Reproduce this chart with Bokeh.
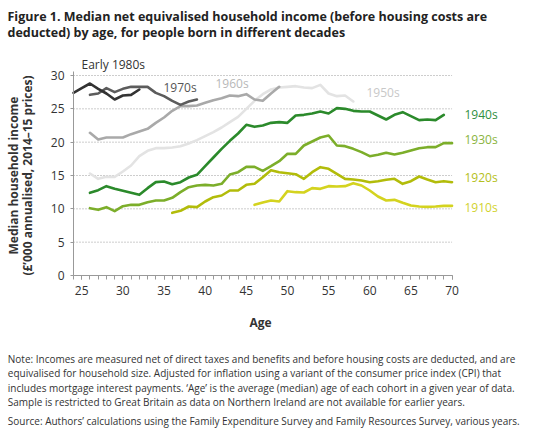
import math
from bokeh.plotting import figure
from bokeh.models import Range1d, Label, FixedTicker, ColumnDataSource
from bokeh.embed import file_html
from bokeh.resources import INLINE

# ---------------- data ----------------
ages_1980s = list(range(24, 33))
inc_1980s = [27.4, 28.1, 28.8, 28.0, 27.3, 26.4, 27.0, 27.1, 27.9]

ages_1970s = list(range(26, 40))
inc_1970s = [27.1, 27.3, 28.1, 27.5, 28.0, 28.3, 28.3, 28.3, 27.4, 26.9,
             26.2, 25.6, 26.1, 26.4]

ages_1960s = list(range(26, 50))
inc_1960s = [21.4, 20.4, 20.7, 20.7, 20.7, 21.2, 21.6, 22.0, 22.9, 23.7,
             24.7, 25.4, 25.4, 25.5, 25.9, 26.3, 26.6, 27.0, 26.9, 27.2,
             26.4, 26.2, 27.3, 28.3]

ages_1950s = list(range(26, 59))
inc_1950s = [15.3, 14.5, 14.8, 14.8, 15.6, 16.5, 17.9, 18.7, 19.1, 19.1,
             19.2, 19.4, 19.8, 20.3, 20.9, 21.5, 22.2, 23.0, 23.8, 25.0,
             26.2, 27.2, 27.9, 28.2, 28.3, 28.4, 28.2, 28.1, 28.6, 27.3,
             26.9, 27.0, 26.1]

ages_1940s = list(range(26, 70))
inc_1940s = [12.4, 12.8, 13.4, 13.0, 12.7, 12.4, 12.1, 13.1, 14.0, 14.1,
             13.7, 14.0, 14.7, 15.1, 16.4, 17.7, 19.0, 20.2, 21.3, 22.6,
             22.3, 22.5, 22.9, 23.0, 22.9, 24.0, 24.1, 24.3, 24.6, 24.3,
             25.1, 25.0, 24.7, 24.6, 24.6, 24.0, 23.4, 24.1, 24.5, 23.9,
             23.3, 23.4, 23.3, 24.1]

ages_1930s = list(range(26, 71))
inc_1930s = [10.1, 9.85, 10.25, 9.65, 10.4, 10.6, 10.6, 11.0, 11.25, 11.25,
             11.65, 12.5, 13.25, 13.5, 13.6, 13.5, 13.75, 15.15, 15.5, 16.3,
             16.3, 15.7, 16.4, 17.15, 18.25, 18.25, 19.5, 20.1, 20.7, 21.0,
             19.5, 19.4, 19.0, 18.5, 17.9, 18.1, 18.4, 18.15, 18.4, 18.75,
             19.1, 19.25, 19.25, 19.85, 19.85]

ages_1920s = list(range(36, 71))
inc_1920s = [9.4, 9.7, 10.35, 10.25, 11.1, 11.75, 12.0, 12.75, 12.75, 13.6,
             13.75, 14.75, 15.8, 15.5, 15.35, 15.2, 14.5, 15.5, 16.25, 16.0,
             15.25, 14.5, 14.4, 14.25, 14.0, 14.15, 14.35, 14.5, 13.75, 14.15,
             14.85, 14.4, 14.0, 14.15, 14.0]

ages_1910s = list(range(46, 71))
inc_1910s = [10.6, 10.95, 11.25, 11.1, 12.65, 12.5, 12.45, 13.1, 13.0, 13.4,
             13.35, 13.4, 13.85, 13.5, 12.75, 11.85, 11.25, 11.35, 10.9, 10.5,
             10.35, 10.3, 10.35, 10.45, 10.45]

cohort_names = ["1950s", "1960s", "1970s", "Early 1980s",
                "1910s", "1920s", "1930s", "1940s"]

x_major_ticks = [25, 30, 35, 40, 45, 50, 55, 60, 65, 70]
x_minor_ticks = list(range(24, 71))
y_ticks = [0, 5, 10, 15, 20, 25, 30]

title_lines = ["Figure 1. Median net equivalised household income (before housing costs are",
               "deducted) by age, for people born in different decades"]
ylabel_lines = ["Median household income", "(\u00a3\u2019000 annualised, 2014\u201315 prices)"]
xlabel = "Age"
note_lines = [
    "Note: Incomes are measured net of direct taxes and benefits and before housing costs are deducted, and are",
    "equivalised for household size. Adjusted for inflation using a variant of the consumer price index (CPI) that",
    "includes mortgage interest payments. \u2018Age\u2019 is the average (median) age of each cohort in a given year of data.",
    "Sample is restricted to Great Britain as data on Northern Ireland are not available for earlier years.",
]
source_line = "Source: Authors\u2019 calculations using the Family Expenditure Survey and Family Resources Survey, various years."

# ---------------- layout ----------------
# The frame covers the whole canvas; axes are drawn at fixed locations so that
# every text (titles, notes, labels) can sit inside the frame.
W, H = 535, 433
AXIS_PX, AXIS_PY = 73, 275          # pixel position of the axes' corner
PX_PER_YEAR = 395 / 48
PX_PER_UNIT = 204 / 30.6
X0 = 24 - AXIS_PX / PX_PER_YEAR
X1 = X0 + W / PX_PER_YEAR
Y1 = AXIS_PY / PX_PER_UNIT
Y0 = Y1 - H / PX_PER_UNIT
FONT = "Open Sans"
TXT = "#333333"


def dx(page_x):
    return X0 + page_x / PX_PER_YEAR


def dy(page_y):
    return Y1 - page_y / PX_PER_UNIT


def lab(text, x, y, size="12px", color=TXT, style="normal", align="left",
        baseline="middle", angle=0.0):
    return Label(x=dx(x), y=dy(y), text=text, text_font=FONT,
                 text_font_size=size, text_color=color,
                 text_font_style=style, text_align=align,
                 text_baseline=baseline, angle=angle)


p = figure(width=W, height=H, output_backend="svg", toolbar_location=None, tools="",
           x_range=Range1d(X0, X1), y_range=Range1d(Y0, Y1),
           min_border_left=0, min_border_right=0,
           min_border_top=0, min_border_bottom=0)
p.outline_line_color = None
p.xgrid.visible = False
p.ygrid.visible = False

# axes (fixed in the frame)
p.xaxis.fixed_location = 0
p.yaxis.fixed_location = x_minor_ticks[0]
p.xaxis.ticker = FixedTicker(ticks=x_major_ticks, minor_ticks=x_minor_ticks)
p.xaxis.bounds = (x_minor_ticks[0], x_minor_ticks[-1])
p.yaxis.ticker = FixedTicker(ticks=y_ticks)
p.yaxis.bounds = (0, 30.6)
for ax in (p.xaxis, p.yaxis):
    ax.axis_line_color = "#999999"
    ax.major_tick_line_color = "#999999"
    ax.minor_tick_line_color = "#999999"
    ax.major_tick_in = 0
    ax.minor_tick_in = 0
    ax.major_label_text_font = FONT
    ax.major_label_text_font_size = "12px"
    ax.major_label_text_color = TXT
p.xaxis.major_tick_out = 4
p.xaxis.minor_tick_out = 4
p.xaxis.major_label_standoff = 6
p.yaxis.major_tick_out = 3
p.yaxis.minor_tick_out = 0
p.yaxis.major_label_standoff = 6

# dotted gridlines limited to the x-axis extent
grid_y = y_ticks[1:]
p.segment(x0=[x_minor_ticks[0]] * len(grid_y), x1=[x_minor_ticks[-1]] * len(grid_y),
          y0=grid_y, y1=grid_y, line_color="#9a9a9a", line_width=1, line_dash="1 2")

series = {
    "1950s": (ages_1950s, inc_1950s, "#e3e3e3"),
    "1960s": (ages_1960s, inc_1960s, "#a9a9a9"),
    "1970s": (ages_1970s, inc_1970s, "#5c5c5c"),
    "Early 1980s": (ages_1980s, inc_1980s, "#333333"),
    "1910s": (ages_1910s, inc_1910s, "#d4d31f"),
    "1920s": (ages_1920s, inc_1920s, "#b2bc0a"),
    "1930s": (ages_1930s, inc_1930s, "#7cae2a"),
    "1940s": (ages_1940s, inc_1940s, "#2b8a2b"),
}
for name in cohort_names:
    xs, ys, col = series[name]
    src = ColumnDataSource(dict(age=xs, income=ys))
    p.line("age", "income", source=src, line_color=col, line_width=2.6,
           line_join="round", line_cap="round")

# series labels (page positions of the reference)
label_specs = [
    ("Early 1980s", 81, 63.5, "#333333"),
    ("1970s", 163, 86.5, "#555555"),
    ("1960s", 215, 82.5, "#b8b8b8"),
    ("1950s", 366, 92, "#c8c8c8"),
    ("1940s", 464, 113.5, "#2f8f3f"),
    ("1930s", 464, 138.5, "#8ab440"),
    ("1920s", 464, 177, "#b5c020"),
    ("1910s", 464, 207, "#d2d22e"),
]
for txt, lx, ly, col in label_specs:
    p.add_layout(lab(txt, lx, ly, color=col))

# title
for t, by in zip(title_lines, [15.5, 32]):
    p.add_layout(lab(t, 7, by, size="12.5px", color="#222222", style="bold",
                     baseline="alphabetic"))

# y axis title (two rotated lines)
for t, cx in zip(ylabel_lines, [12.5, 27]):
    p.add_layout(lab(t, cx, 175, style="bold", align="center",
                     baseline="middle", angle=math.pi / 2))

# x axis title
p.add_layout(lab(xlabel, 260, 321.5, style="bold", align="center",
                 baseline="alphabetic"))

# notes and source
for t, by in zip(note_lines + [source_line], [358.3, 372.7, 387.2, 401.6, 420.5]):
    p.add_layout(lab(t, 7.3, by, size="10px", baseline="alphabetic"))

open("out.html", "w").write(file_html(p, INLINE))
